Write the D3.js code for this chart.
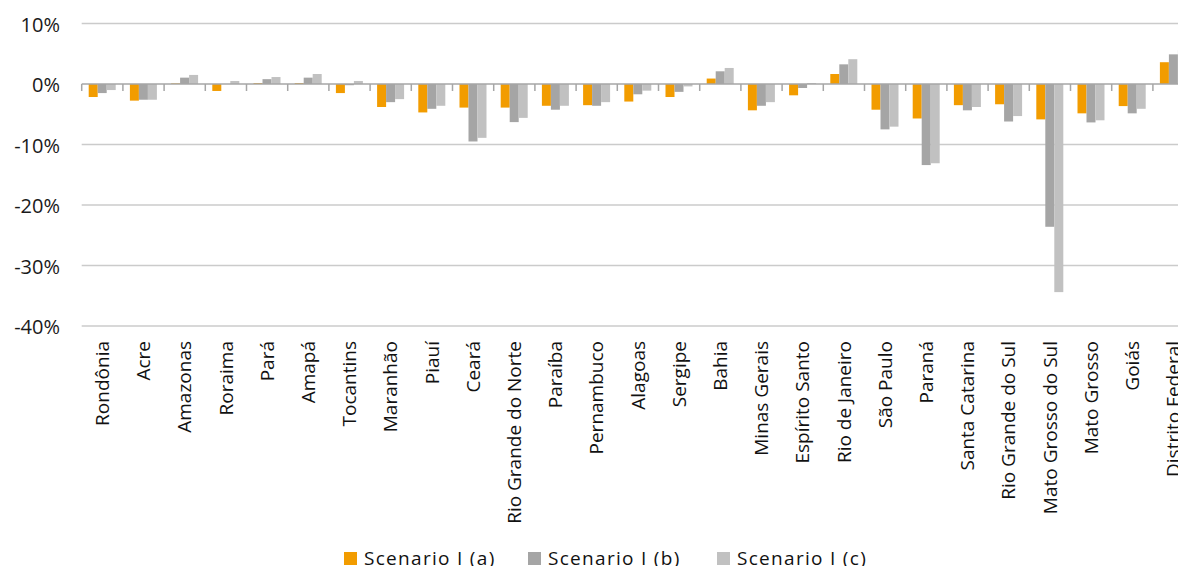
<!DOCTYPE html>
<html>
<head>
<meta charset="utf-8">
<script src="https://cdn.jsdelivr.net/npm/d3@7"></script>
<style>
  body { margin: 0; background: #fff; }
  svg { display: block; font-family: "Open Sans", sans-serif; }
</style>
</head>
<body>
<div class="chart"></div>
<script>
// states along the x axis
const states = ['Rondônia', 'Acre', 'Amazonas', 'Roraima', 'Pará', 'Amapá', 'Tocantins',
  'Maranhão', 'Piauí', 'Ceará', 'Rio Grande do Norte', 'Paraíba', 'Pernambuco', 'Alagoas',
  'Sergipe', 'Bahia', 'Minas Gerais', 'Espírito Santo', 'Rio de Janeiro', 'São Paulo',
  'Paraná', 'Santa Catarina', 'Rio Grande do Sul', 'Mato Grosso do Sul', 'Mato Grosso',
  'Goiás', 'Distrito Federal'];

const seriesNames = ['Scenario I (a)', 'Scenario I (b)', 'Scenario I (c)'];

// values in %
const scenarioA = [-2.15, -2.75, 0.1, -1.15, 0.15, 0.15, -1.5, -3.8, -4.7, -3.9, -3.9, -3.6,
  -3.5, -2.9, -2.15, 0.9, -4.35, -1.87, 1.65, -4.25, -5.7, -3.5, -3.35, -5.85, -4.85, -3.65, 3.6];
const scenarioB = [-1.5, -2.6, 1.05, 0, 0.8, 1.05, -0.2, -3.0, -4.1, -9.5, -6.3, -4.25,
  -3.6, -1.7, -1.3, 2.1, -3.6, -0.66, 3.25, -7.5, -13.4, -4.35, -6.2, -23.6, -6.35, -4.85, 4.9];
const scenarioC = [-1.0, -2.6, 1.5, 0.5, 1.15, 1.65, 0.5, -2.5, -3.6, -8.9, -5.6, -3.6,
  -3.0, -1.1, -0.4, 2.65, -3.0, 0.15, 4.1, -7.05, -13.1, -3.8, -5.3, -34.4, -6.0, -4.1, 5.6];

const yTicks = [10, 0, -10, -20, -30, -40];
const colors = ['#f29c00', '#a5a5a5', '#c1c1c1'];

const width = 1178, height = 566;
const rows = states.map((s, i) => ({ state: s, values: [scenarioA[i], scenarioB[i], scenarioC[i]] }));

const svg = d3.select('div.chart').append('svg')
  .attr('width', width)
  .attr('height', height);

const x = d3.scaleBand().domain(states).range([81.7, 81.7 + 27 * 41.2]);
const x1 = d3.scaleBand().domain(seriesNames).range([7, 34]);
const y = d3.scaleLinear().domain([-40, 10]).range([326, 23.5]);

// gridlines
svg.append('g').selectAll('line')
  .data(yTicks.filter(t => t !== 0))
  .enter().append('line')
  .attr('x1', 81.7).attr('x2', width)
  .attr('y1', d => y(d)).attr('y2', d => y(d))
  .attr('stroke', '#cbcbcb')
  .attr('stroke-width', 1.5);

// y labels
svg.append('g').selectAll('text')
  .data(yTicks)
  .enter().append('text')
  .attr('x', 60)
  .attr('y', d => y(d) + 1)
  .attr('dy', '0.35em')
  .attr('text-anchor', 'end')
  .style('font-size', '20px')
  .attr('fill', '#1a1a1a')
  .text(d => d + '%');

// bars
const groups = svg.append('g').selectAll('g')
  .data(rows)
  .enter().append('g')
  .attr('transform', d => `translate(${x(d.state)},0)`);

groups.selectAll('rect')
  .data(d => d.values.map((v, i) => ({ v, i })))
  .enter().append('rect')
  .attr('x', d => x1(seriesNames[d.i]))
  .attr('width', x1.bandwidth())
  .attr('y', d => y(Math.max(0, d.v)))
  .attr('height', d => Math.abs(y(d.v) - y(0)))
  .attr('fill', d => colors[d.i]);

// zero axis + ticks
svg.append('line')
  .attr('x1', 81.7).attr('x2', width)
  .attr('y1', y(0)).attr('y2', y(0))
  .attr('stroke', '#a6a6a6')
  .attr('stroke-width', 1.5);

svg.append('g').selectAll('line')
  .data(states)
  .enter().append('line')
  .attr('x1', d => x(d)).attr('x2', d => x(d))
  .attr('y1', y(0)).attr('y2', y(0) + 7)
  .attr('stroke', '#a6a6a6')
  .attr('stroke-width', 1.5);

// category labels
svg.append('g').selectAll('text')
  .data(states)
  .enter().append('text')
  .attr('transform', d => `translate(${x(d) + x.bandwidth() / 2},341) rotate(-90)`)
  .attr('dy', '0.35em')
  .attr('text-anchor', 'end')
  .style('font-size', '19px')
  .attr('fill', '#111')
  .text(d => d);

// legend
const legendX = [344, 528, 717];
const legend = svg.append('g').selectAll('g')
  .data(seriesNames)
  .enter().append('g')
  .attr('transform', (d, i) => `translate(${legendX[i]},558)`);

legend.append('rect')
  .attr('x', 0).attr('y', -6)
  .attr('width', 13).attr('height', 13)
  .attr('fill', (d, i) => colors[i]);

legend.append('text')
  .attr('x', 20)
  .attr('dy', '0.35em')
  .style('font-size', '19px')
  .style('letter-spacing', '1.3px')
  .attr('fill', '#111')
  .text(d => d);
</script>
</body>
</html>
